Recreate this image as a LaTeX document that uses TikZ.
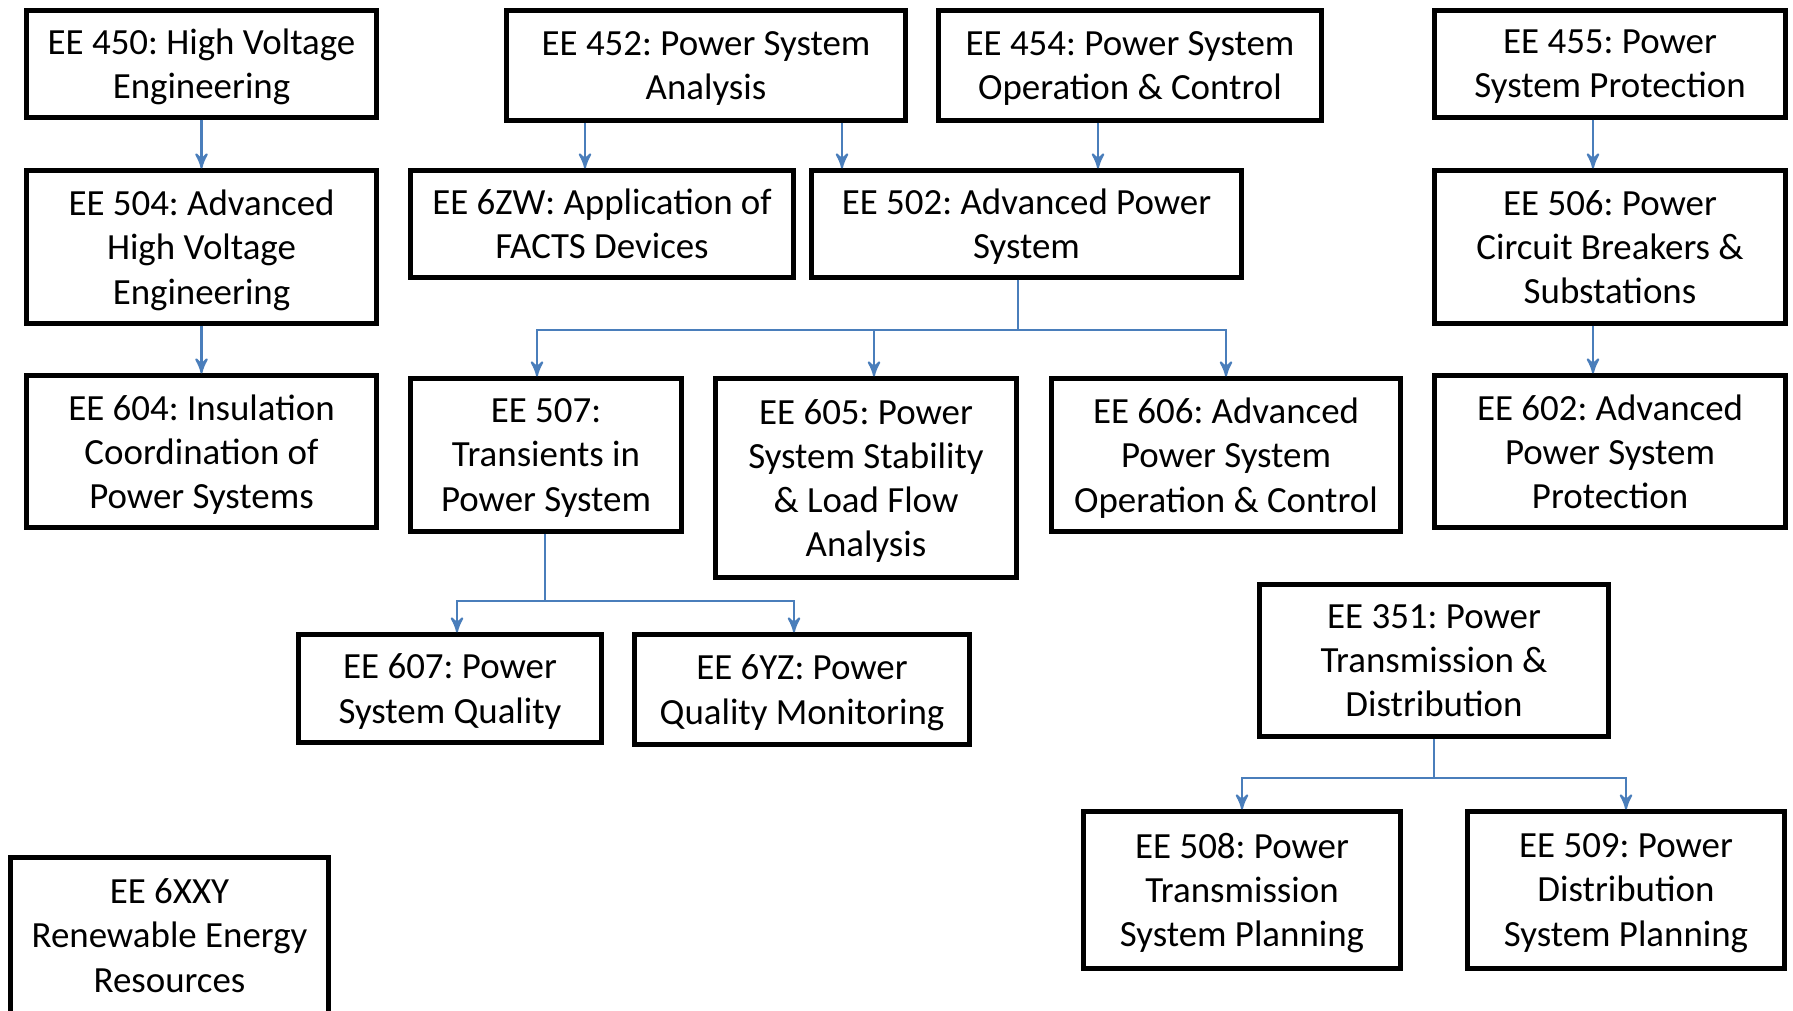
\documentclass[tikz,border=0pt]{standalone}
\usepackage{fontspec}
\setmainfont{Carlito}
\usepackage{tikz}
\usetikzlibrary{arrows,positioning,calc}
\definecolor{linkblue}{RGB}{74,126,187}
\frenchspacing

\begin{document}
\begin{tikzpicture}[>=stealth',
    course/.style={draw,rectangle,line width=1.2pt,align=center,inner sep=2pt,text depth=0pt,
        font=\fontsize{10.5}{12.6}\selectfont},
    link/.style={->,linkblue,line width=0.6pt},
    stem/.style={-,linkblue,line width=0.6pt}]

    \useasboundingbox (0,0) rectangle (17.93,-10.11);

    % first row
    \node[course,minimum width=3.50cm,minimum height=1.07cm](e450) at (2.015,-0.64) {EE 450: High Voltage\\Engineering};
    \node[course,minimum width=3.99cm,minimum height=1.10cm](e452) at (7.06,-0.655) {EE 452: Power System\\Analysis};
    \node[course,minimum width=3.83cm,minimum height=1.10cm](e454) at (11.30,-0.655) {EE 454: Power System\\Operation \& Control};
    \node[course,minimum width=3.51cm,minimum height=1.07cm](e455) at (16.10,-0.64) {EE 455: Power\\System Protection};

    % second row
    \node[course,minimum width=3.50cm,minimum height=1.53cm](e504) at (2.015,-2.47) {EE 504: Advanced\\High Voltage\\Engineering};
    \node[course,minimum width=3.83cm,minimum height=1.07cm](e6zw) at (6.02,-2.24) {EE 6ZW: Application of\\FACTS Devices};
    \node[course,minimum width=4.30cm,minimum height=1.07cm](e502) at (10.265,-2.24) {EE 502: Advanced Power\\System};
    \node[course,minimum width=3.51cm,minimum height=1.53cm](e506) at (16.10,-2.47) {EE 506: Power\\Circuit Breakers \&\\Substations};

    % third row
    \node[course,minimum width=3.50cm,minimum height=1.52cm](e604) at (2.015,-4.515) {EE 604: Insulation\\Coordination of\\Power Systems};
    \node[course,minimum width=2.71cm,minimum height=1.53cm](e507) at (5.46,-4.55) {EE 507:\\Transients in\\Power System};
    \node[course,minimum width=3.01cm,minimum height=1.99cm](e605) at (8.66,-4.78) {EE 605: Power\\System Stability\\\& Load Flow\\Analysis};
    \node[course,minimum width=3.49cm,minimum height=1.53cm](e606) at (12.26,-4.55) {EE 606: Advanced\\Power System\\Operation \& Control};
    \node[course,minimum width=3.51cm,minimum height=1.52cm](e602) at (16.10,-4.515) {EE 602: Advanced\\Power System\\Protection};

    % lower rows
    \node[course,minimum width=3.03cm,minimum height=1.08cm](e607) at (4.50,-6.885) {EE 607: Power\\System Quality};
    \node[course,minimum width=3.35cm,minimum height=1.10cm](e6yz) at (8.02,-6.895) {EE 6YZ: Power\\Quality Monitoring};
    \node[course,minimum width=3.49cm,minimum height=1.52cm](e351) at (14.34,-6.605) {EE 351: Power\\Transmission \&\\Distribution};
    \node[course,minimum width=3.17cm,minimum height=1.57cm](e508) at (12.42,-8.90) {EE 508: Power\\Transmission\\System Planning};
    \node[course,minimum width=3.17cm,minimum height=1.57cm](e509) at (16.26,-8.90) {EE 509: Power\\Distribution\\System Planning};
    \node[course,minimum width=3.18cm,minimum height=1.56cm](e6xxy) at (1.695,-9.355) {EE 6XXY\\Renewable Energy\\Resources};

    % straight links
    \draw[link] (e450) -- (e504);
    \draw[link] (e504) -- (e604);
    \draw[link] ([xshift=-0.17cm]e455.south) -- ([xshift=-0.17cm]e506.north);
    \draw[link] ([xshift=-0.17cm]e506.south) -- ([xshift=-0.17cm]e602.north);
    \draw[link] ([xshift=-1.21cm]e452.south) -- ([xshift=-1.21cm]e452.south |- e6zw.north);
    \draw[link] ([xshift=1.36cm]e452.south) -- ([xshift=1.36cm]e452.south |- e502.north);
    \draw[link] ([xshift=-0.32cm]e454.south) -- ([xshift=-0.32cm]e454.south |- e502.north);

    % branching links
    \coordinate (j502) at (10.18,-3.30);
    \coordinate (j507) at (5.45,-6.01);
    \coordinate (j351) at (14.34,-7.78);

    \draw[stem] (j502 |- e502.south) -- (j502);
    \draw[link] (j502) -| ([xshift=-0.09cm]e507.north);
    \draw[link] (j502) -| ([xshift=0.08cm]e605.north);
    \draw[link] (j502) -| (e606.north);

    \draw[stem] (j507 |- e507.south) -- (j507);
    \draw[link] (j507) -| ([xshift=0.07cm]e607.north);
    \draw[link] (j507) -| ([xshift=-0.08cm]e6yz.north);

    \draw[stem] (j351 |- e351.south) -- (j351);
    \draw[link] (j351) -| (e508.north);
    \draw[link] (j351) -| (e509.north);

\end{tikzpicture}
\end{document}
